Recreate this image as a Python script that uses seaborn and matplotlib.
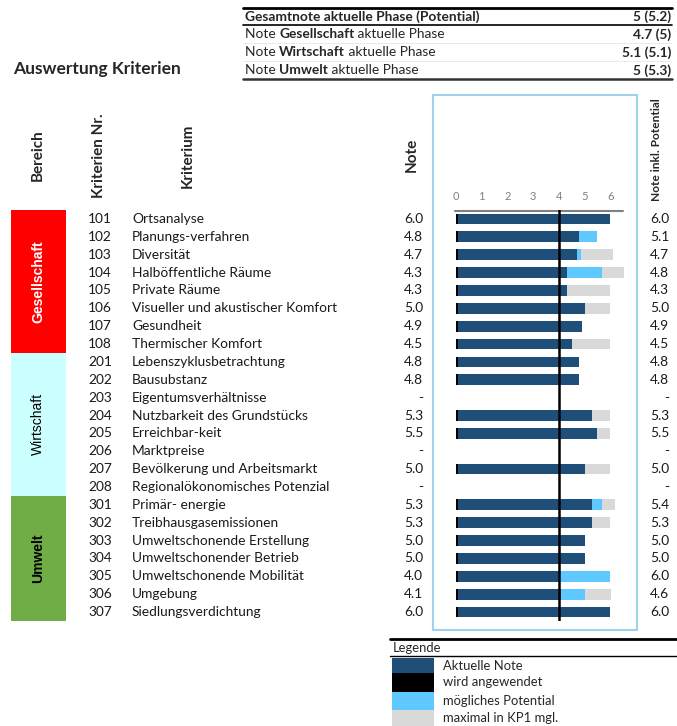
import matplotlib
matplotlib.use("Agg")
import matplotlib.pyplot as plt
import matplotlib.transforms as mtransforms
from matplotlib.patches import Rectangle
import seaborn as sns
import numpy as np
import pandas as pd

nan = np.nan

# --- data -------------------------------------------------------------
kriterien_nr = ["101", "102", "103", "104", "105", "106", "107", "108",
                "201", "202", "203", "204", "205", "206", "207", "208",
                "301", "302", "303", "304", "305", "306", "307"]
kriterium = ["Ortsanalyse", "Planungs-verfahren", "Diversität", "Halböffentliche Räume",
             "Private Räume", "Visueller und akustischer Komfort", "Gesundheit",
             "Thermischer Komfort", "Lebenszyklusbetrachtung", "Bausubstanz",
             "Eigentumsverhältnisse", "Nutzbarkeit des Grundstücks", "Erreichbar-keit",
             "Marktpreise", "Bevölkerung und Arbeitsmarkt", "Regionalökonomisches Potenzial",
             "Primär- energie", "Treibhausgasemissionen", "Umweltschonende Erstellung",
             "Umweltschonender Betrieb", "Umweltschonende Mobilität", "Umgebung",
             "Siedlungsverdichtung"]
note = [6.0, 4.8, 4.7, 4.3, 4.3, 5.0, 4.9, 4.5, 4.8, 4.8, nan, 5.3, 5.5, nan, 5.0, nan,
        5.3, 5.3, 5.0, 5.0, 4.0, 4.1, 6.0]
potential = [6.0, 5.5, 4.85, 5.7, 4.3, 5.0, 4.9, 4.5, 4.8, 4.8, nan, 5.3, 5.5, nan, 5.0, nan,
             5.7, 5.3, 5.0, 5.0, 6.0, 5.0, 6.0]
maximal_kp1 = [6.0, 5.5, 6.1, 6.55, 6.0, 6.0, 4.9, 6.0, 4.8, 4.8, nan, 6.0, 6.0, nan, 6.0, nan,
               6.2, 6.0, 5.0, 5.0, 6.0, 6.05, 6.0]
note_inkl_potential = [6.0, 5.1, 4.7, 4.8, 4.3, 5.0, 4.9, 4.5, 4.8, 4.8, nan, 5.3, 5.5, nan,
                       5.0, nan, 5.4, 5.3, 5.0, 5.0, 6.0, 4.6, 6.0]
bereiche = ["Gesellschaft", "Wirtschaft", "Umwelt"]
bereich_rows = [8, 8, 7]
ticks = [0, 1, 2, 3, 4, 5, 6]

summary_labels = [("Note ", "Gesellschaft", " aktuelle Phase"),
                  ("Note ", "Wirtschaft", " aktuelle Phase"),
                  ("Note ", "Umwelt", " aktuelle Phase")]
summary_values = ["4.7 (5)", "5.1 (5.1)", "5 (5.3)"]
gesamt_label = "Gesamtnote aktuelle Phase (Potential)"
gesamt_value = "5 (5.2)"

legend_labels = ["Aktuelle Note", "wird angewendet", "mögliches Potential", "maximal in KP1 mgl."]

# --- styles -----------------------------------------------------------
DARK = "#1f4e79"
BLUE = "#5fc8ff"
GREY = "#d9d9d9"
BLACK = "#000000"
bereich_colors = ["#ff0000", "#ccffff", "#70ad47"]
bereich_text = ["white", "black", "black"]
bereich_weight = ["bold", "normal", "bold"]

sns.set_theme(style="white")
plt.rcParams["font.family"] = ["Lato", "DejaVu Sans"]
FS = 9.9
TXT = "#1a1a1a"

df = pd.DataFrame({"nr": kriterien_nr, "note": note, "pot": potential, "max": maximal_kp1})
df["applied"] = np.where(df["note"].notna(), 0.09, nan)

W, H = 677, 726
fig = plt.figure(figsize=(W / 100, H / 100), dpi=100)
over = fig.add_axes([0, 0, 1, 1])
over.set_xlim(0, W)
over.set_ylim(H, 0)
over.axis("off")

# bar axes, x: 0 -> 456px, 25.7 px per unit; rows between 210 and 621 px
px_unit = 25.7
x0, y_top, y_bot = 456, 210, 621
ax = fig.add_axes([x0 / W, 1 - y_bot / H, 7 * px_unit / W, (y_bot - y_top) / H])
ax.patch.set_alpha(0)

bh = 0.6
for col, color in [("max", GREY), ("pot", BLUE), ("note", DARK), ("applied", BLACK)]:
    sns.barplot(data=df, x=col, y="nr", order=kriterien_nr, orient="h", color=color,
                width=bh, saturation=1, errorbar=None, ax=ax, linewidth=0)
ax.axvline(4, color="black", lw=1.8, zorder=5)
ax.set_xlim(0, 7)
ax.set_ylim(len(kriterien_nr) - 0.5, -0.5)
ax.axis("off")

# row texts aligned on bar rows
rowtr = mtransforms.blended_transform_factory(over.transData, ax.transData)
fmt = lambda v: "-" if np.isnan(v) else f"{v:.1f}"
for i in range(len(kriterien_nr)):
    over.text(88, i, kriterien_nr[i], transform=rowtr, va="center", ha="left", fontsize=FS, color=TXT)
    over.text(132, i, kriterium[i], transform=rowtr, va="center", ha="left", fontsize=FS, color=TXT)
    over.text(423, i, fmt(note[i]), transform=rowtr, va="center", ha="right", fontsize=FS, color=TXT)
    over.text(669, i, fmt(note_inkl_potential[i]), transform=rowtr, va="center", ha="right",
              fontsize=FS, color=TXT)

# Bereich blocks
start = 0
for name, n, c, tc, fw in zip(bereiche, bereich_rows, bereich_colors, bereich_text, bereich_weight):
    ylo, yhi = start - 0.5, start + n - 0.5
    over.add_patch(Rectangle((11, ylo), 55, n, transform=rowtr, facecolor=c, edgecolor="none"))
    over.text(38, (ylo + yhi) / 2, name, transform=rowtr, rotation=90, ha="center", va="center",
              fontsize=10, fontweight=fw, color=tc, family="Liberation Sans")
    start += n

# headers
for x, txt, yb in [(38, "Bereich", 181), (99, "Kriterien Nr.", 198), (188, "Kriterium", 188), (412, "Note", 172)]:
    over.text(x, yb, txt, rotation=90, ha="center", va="bottom", fontsize=11, fontweight="bold")
over.text(657, 201, "Note inkl. Potential", rotation=90, ha="center", va="bottom",
          fontsize=8.6, fontweight="bold")

# chart frame, tick labels and top rule
over.add_patch(Rectangle((433, 95), 204, 535, facecolor="none", edgecolor="#9fd3ea", lw=1.5))
for k in ticks:
    over.text(x0 + k * px_unit, 196, str(k), ha="center", va="center", fontsize=8, color="#8a7f73")
over.plot([455, 623], [211, 211], color="#808080", lw=1.5)

# title
over.text(13, 69, "Auswertung Kriterien", ha="left", va="center", fontsize=12.5, fontweight="bold")

# summary table
over.plot([243, 672], [8, 8], color="black", lw=2)
over.plot([243, 672], [25, 25], color="black", lw=1.2)
over.plot([243, 672], [43, 43], color="#e6e6e6", lw=0.6)
over.plot([243, 672], [61, 61], color="#e6e6e6", lw=0.6)
over.plot([243, 672], [79, 79], color="#333333", lw=1.8)
over.text(245, 16.5, gesamt_label, ha="left", va="center", fontsize=FS, fontweight="bold")
over.text(671, 16.5, gesamt_value, ha="right", va="center", fontsize=FS, fontweight="bold")
for j, (parts, val) in enumerate(zip(summary_labels, summary_values)):
    yc = 34.5 + j * 18
    prev = over.text(245, yc, parts[0], ha="left", va="center", fontsize=FS)
    for p, w in [(parts[1], "bold"), (parts[2], "normal")]:
        prev = over.annotate(p, xy=(1, 0), xycoords=prev, ha="left", va="bottom",
                             fontsize=FS, fontweight=w)
    over.text(671, yc, val, ha="right", va="center", fontsize=FS, fontweight="bold")

# legend
over.plot([390, 677], [639, 639], color="black", lw=2)
over.plot([390, 677], [656, 656], color="black", lw=1)
over.text(393, 648, "Legende", ha="left", va="center", fontsize=FS - 0.5)
leg_rows = [(658, 673), (673, 692), (692, 710), (710, 726)]
for (ya, yb), c, lab in zip(leg_rows, [DARK, BLACK, BLUE, GREY], legend_labels):
    over.add_patch(Rectangle((392, ya), 42, yb - ya, facecolor=c, edgecolor="none"))
    over.text(443, (ya + yb) / 2, lab, ha="left", va="center", fontsize=FS - 0.5)

fig.savefig("out.png", dpi=100)
